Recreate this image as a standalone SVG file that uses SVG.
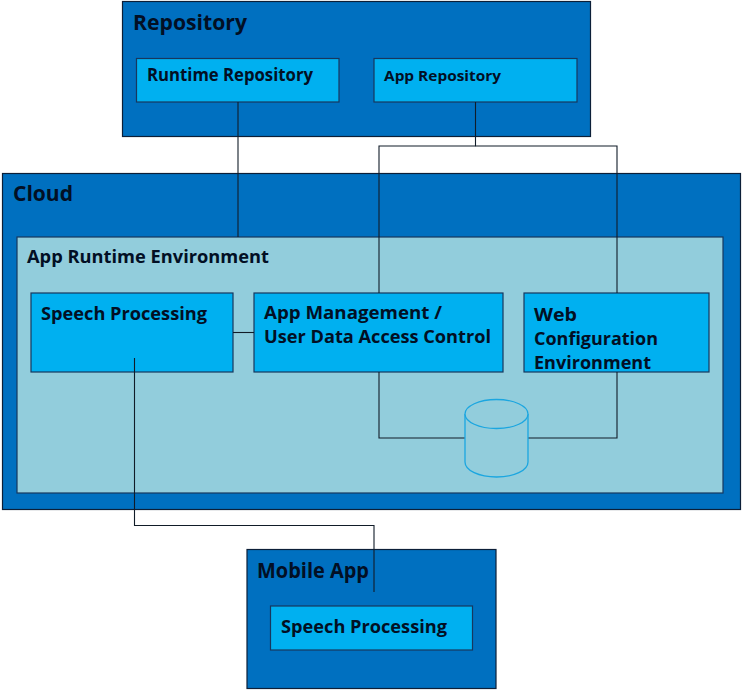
<svg xmlns="http://www.w3.org/2000/svg" width="742" height="690" viewBox="0 0 742 690">
<style>
.outer{fill:#0070c0;stroke:#0c1f38;stroke-width:1.200}
.env{fill:#92cddc;stroke:#17375e;stroke-width:1.200}
.box{fill:#00b0f0;stroke:#17375e;stroke-width:1.200}
.conn{fill:none;stroke:#111c28;stroke-width:1.100}
text{font-family:"Open Sans","Noto Sans","Liberation Sans",sans-serif;font-weight:700;fill:#020f24}
.t1{font-size:20.500px}
.t2{font-size:17px}
</style>
<rect width="742" height="690" fill="#fff"/>
<g id="repository"><rect class="outer" x="122.500" y="1.500" width="468" height="135"/><text class="t1" x="133" y="30" textLength="114" lengthAdjust="spacingAndGlyphs">Repository</text></g>
<g id="cloud"><rect class="outer" x="2.500" y="173.500" width="738" height="336"/><text class="t1" x="13" y="201" textLength="60" lengthAdjust="spacingAndGlyphs">Cloud</text></g>
<g id="app-runtime-environment"><rect class="env" x="17" y="237" width="706" height="256"/><text class="t2" x="27" y="263" textLength="242" lengthAdjust="spacingAndGlyphs">App Runtime Environment</text></g>
<g id="mobile-app"><rect class="outer" x="247" y="549.500" width="249" height="139"/><text class="t1" x="257" y="578" textLength="112" lengthAdjust="spacingAndGlyphs">Mobile App</text></g>
<g id="runtime-repository"><rect class="box" x="136.500" y="58.500" width="202.500" height="43.500"/><text class="t2" x="147" y="81" textLength="166" lengthAdjust="spacingAndGlyphs">Runtime Repository</text></g>
<g id="app-repository"><rect class="box" x="374" y="58.500" width="203" height="43.500"/><text x="384" y="81" font-size="15" textLength="117" lengthAdjust="spacingAndGlyphs">App Repository</text></g>
<g id="speech-processing-cloud"><rect class="box" x="31" y="293" width="202" height="79"/><text class="t2" x="41" y="320" textLength="166" lengthAdjust="spacingAndGlyphs">Speech Processing</text></g>
<g id="app-management"><rect class="box" x="254" y="293" width="249" height="79"/><text class="t2" x="264" y="319" textLength="178" lengthAdjust="spacingAndGlyphs">App Management /</text><text class="t2" x="264" y="343" textLength="227" lengthAdjust="spacingAndGlyphs">User Data Access Control</text></g>
<g id="web-configuration"><rect class="box" x="524" y="293" width="185" height="79"/><text class="t2" x="534" y="321" textLength="43" lengthAdjust="spacingAndGlyphs">Web</text><text class="t2" x="534" y="345" textLength="124" lengthAdjust="spacingAndGlyphs">Configuration</text><text class="t2" x="534" y="369" textLength="117" lengthAdjust="spacingAndGlyphs">Environment</text></g>
<g id="speech-processing-mobile"><rect class="box" x="270.500" y="606" width="202" height="44"/><text class="t2" x="281" y="633" textLength="166" lengthAdjust="spacingAndGlyphs">Speech Processing</text></g>
<g id="connectors">
<path class="conn" d="M238 102V237"/>
<path class="conn" d="M475.500 102V146H379V293"/>
<path class="conn" d="M475.500 146H617V293"/>
<path class="conn" d="M233 332.500H254"/>
<path class="conn" d="M379 372V438H465"/>
<path class="conn" d="M617 372V438H528"/>
<path class="conn" d="M134.500 358V525.500H374V592"/>
</g>
<g id="database" fill="#92cddc" stroke="#1ba6e0" stroke-width="1.300"><path d="M465 414V462C465 470.500 479 477 496.500 477S528 470.500 528 462V414"/><ellipse cx="496.500" cy="414" rx="31.500" ry="14.500"/></g>
</svg>
